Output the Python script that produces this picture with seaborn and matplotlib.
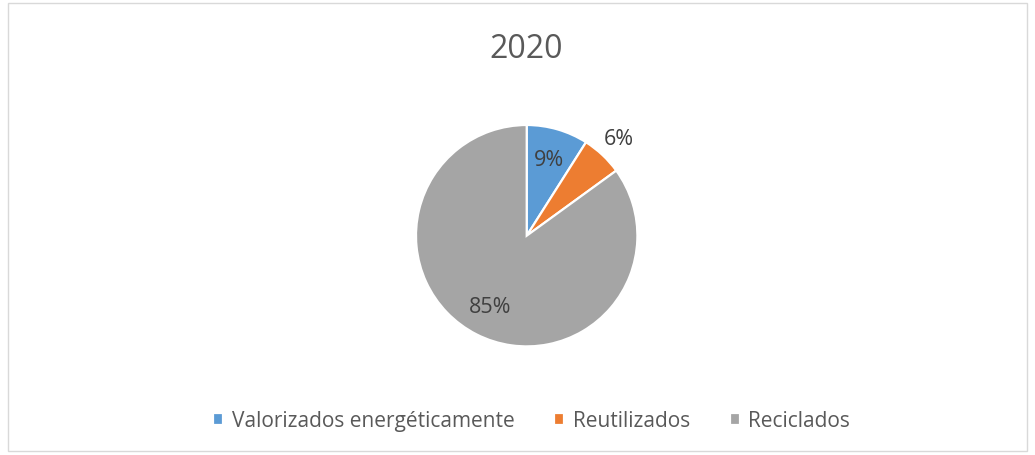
import numpy as np
import matplotlib
matplotlib.use("Agg")
import matplotlib.pyplot as plt
from matplotlib.patches import Rectangle
import seaborn as sns

# data
title = "2020"
categories = ["Valorizados energéticamente", "Reutilizados", "Reciclados"]
values = [9, 6, 85]
colors = ["#5B9BD5", "#ED7D31", "#A5A5A5"]

sns.set_theme(style="white")
plt.rcParams["font.family"] = ["Open Sans", "DejaVu Sans"]

W, H = 1035, 456
fig = plt.figure(figsize=(W / 100, H / 100), dpi=100)

# pie centre and radius in pixels
cx, cy, r = 526.7, 236.7, 110.7
ax = fig.add_axes([(cx - r) / W, (H - cy - r) / H, 2 * r / W, 2 * r / H])

palette = sns.color_palette(colors)
wedges, texts, autotexts = ax.pie(
    values, colors=palette, startangle=90, counterclock=False,
    autopct="%1.0f%%", pctdistance=0.72,
    wedgeprops=dict(edgecolor="white", linewidth=1.6),
    textprops=dict(color="#404040", fontsize=15.5),
)
ax.set_xlim(-1, 1)
ax.set_ylim(-1, 1)
ax.set_aspect("equal")

# small slice label sits outside the pie
w = wedges[1]
ang = np.deg2rad((w.theta1 + w.theta2) / 2)
autotexts[1].set_position((1.21 * np.cos(ang), 1.21 * np.sin(ang)))

fig.text(0.508, 1 - 50 / H, title, ha="center", va="center",
         fontsize=23, color="#595959")

fig.legend(wedges, categories, loc="center", bbox_to_anchor=(531.5 / W, 1 - 422 / H),
           ncol=3, frameon=False, fontsize=15, labelcolor="#595959",
           handlelength=0.5, handleheight=0.5, handletextpad=0.4,
           columnspacing=1.9)

fig.patches.append(Rectangle((8 / W, 4 / H), (W - 16) / W, (H - 8) / H,
                             transform=fig.transFigure, fill=False,
                             edgecolor="#D9D9D9", linewidth=1))

fig.savefig("out.png", dpi=100, facecolor="white")
